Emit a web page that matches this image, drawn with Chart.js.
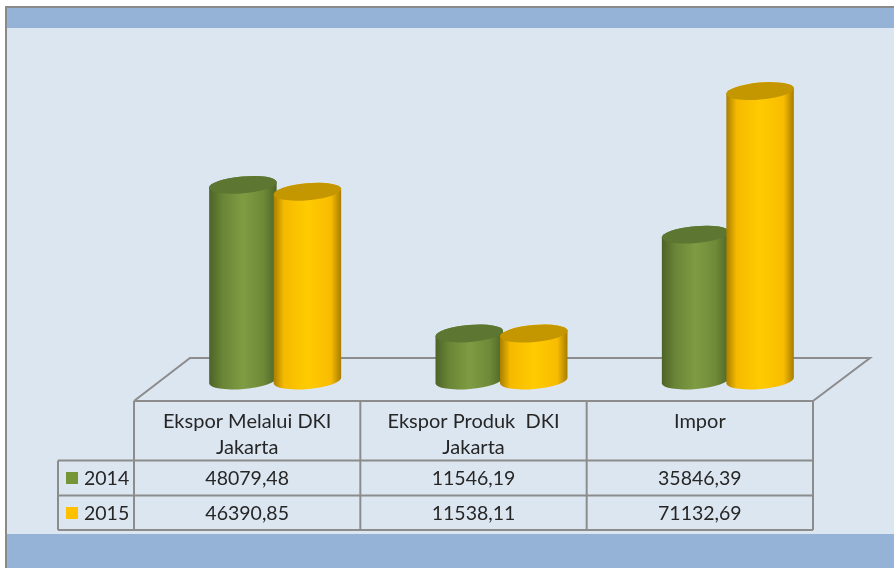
<!DOCTYPE html>
<html>
<head>
<meta charset="utf-8">
<title>Ekspor Impor DKI Jakarta</title>
<script src="https://cdn.jsdelivr.net/npm/chart.js@4"></script>
<style>
  html,body{margin:0;padding:0;background:#fff;}
  #wrap{position:relative;width:894px;height:568px;}
</style>
</head>
<body>
<div id="wrap"><canvas id="ch" width="894" height="568"></canvas></div>
<script>
const categories = [['Ekspor Melalui DKI','Jakarta'],['Ekspor Produk  DKI','Jakarta'],['Impor']];
const seriesNames = ['2014','2015'];
const values2014 = [48079.48, 11546.19, 35846.39];
const values2015 = [46390.85, 11538.11, 71132.69];
const yMax = 80000;

const FONT = 'Lato, "Open Sans", sans-serif';
const TEXT = '#262626', GRID = '#8c8c8c';
const depth = 28; // kaydirma: zemin derinligi
const tilt = -5*Math.PI/180, ry = 8.5;

const shades = [
  {cap:'#5d7631', pos:[0,.2,.5,.8,1], stops:['#4d6327','#6a8536','#7f9c43','#6f8a38','#4f6528'], swatch:'#769536'},
  {cap:'#c49700', pos:[0,.15,.5,.85,1], stops:['#a87f00','#f5b900','#ffcb00','#f8bc00','#a67d00'], swatch:'#ffc000'}
];
const fmt = v => v.toFixed(2).replace('.',',');

function cylinder(ctx, el, shade){
  const cx = el.x, rx = el.width/2, top = el.y, bot = el.base;
  const dx = rx*Math.cos(tilt), dy = rx*Math.sin(tilt);
  const g = ctx.createLinearGradient(cx-dx,0,cx+dx,0);
  shade.stops.forEach((c,i)=> g.addColorStop(shade.pos[i],c));
  ctx.beginPath();
  ctx.moveTo(cx-dx, top-dy);
  ctx.lineTo(cx-dx, bot-dy);
  ctx.ellipse(cx, bot, rx, ry, tilt, Math.PI, 0, true);
  ctx.lineTo(cx+dx, top+dy);
  ctx.closePath();
  ctx.fillStyle = g;
  ctx.fill();
  ctx.beginPath();
  ctx.ellipse(cx, top, rx, ry, tilt, 0, Math.PI*2);
  ctx.fillStyle = g;
  ctx.fill();
  ctx.fillStyle = shade.cap;
  ctx.fill();
}

function line(ctx,x1,y1,x2,y2){ ctx.beginPath(); ctx.moveTo(x1,y1); ctx.lineTo(x2,y2); ctx.stroke(); }

const scenePlugin = {
  id:'scene',
  beforeDraw(chart){
    const {ctx,width,height} = chart;
    ctx.save();
    ctx.fillStyle='#fff'; ctx.fillRect(0,0,width,height);
    ctx.fillStyle='#dce6f1'; ctx.fillRect(6,7,width-6,height-7);
    ctx.fillStyle='#95b3d7'; ctx.fillRect(6,7,width-6,21); ctx.fillRect(6,534,width-6,height-534);
    ctx.fillStyle='#8a8a8a'; ctx.fillRect(5,6,width-5,2); ctx.fillRect(5,6,2,height-6);
    ctx.restore();
  },
  beforeDatasetsDraw(chart){
    const {ctx,scales:{x}} = chart;
    const colW = x.getPixelForValue(1)-x.getPixelForValue(0);
    const left = x.getPixelForValue(0)-depth-colW/2, right = left+colW*categories.length;
    ctx.save();
    ctx.strokeStyle=GRID; ctx.lineWidth=2;
    // zemin
    ctx.beginPath(); ctx.moveTo(left,401); ctx.lineTo(left+56,358); ctx.lineTo(right+57,358); ctx.lineTo(right,401); ctx.stroke();
    // tablo
    const rowY=[401,460.5,495.5,530], legX=58;
    line(ctx,left,rowY[0],right,rowY[0]);
    line(ctx,legX,rowY[1],right,rowY[1]);
    line(ctx,legX,rowY[2],right,rowY[2]);
    line(ctx,legX,rowY[3],right,rowY[3]);
    line(ctx,legX,rowY[1],legX,rowY[3]);
    for(let i=0;i<=categories.length;i++) line(ctx,left+colW*i,rowY[0],left+colW*i,rowY[3]);
    // silindirler
    chart.data.datasets.forEach((d,i)=>{
      chart.getDatasetMeta(i).data.forEach(el=> cylinder(ctx,el,shades[i]));
    });
    // tablo degerleri + lejant
    ctx.font='19.5px '+FONT; ctx.fillStyle=TEXT; ctx.textBaseline='middle';
    chart.data.datasets.forEach((d,i)=>{
      const y=rowY[i+1]+17.5;
      ctx.fillStyle=shades[i].swatch; ctx.fillRect(66,y-6,12,12);
      ctx.fillStyle=TEXT; ctx.textAlign='left'; ctx.fillText(d.label,84,y+0.5);
      ctx.textAlign='center';
      d.data.forEach((v,j)=> ctx.fillText(fmt(v), x.getPixelForValue(j)-depth, y+0.5));
    });
    ctx.restore();
    return false;
  }
};

new Chart(document.getElementById('ch'),{
  type:'bar',
  data:{labels:categories,datasets:[
    {label:seriesNames[0],data:values2014,backgroundColor:shades[0].swatch,categoryPercentage:.57,barPercentage:1.05},
    {label:seriesNames[1],data:values2015,backgroundColor:shades[1].swatch,categoryPercentage:.57,barPercentage:1.05}
  ]},
  options:{
    responsive:false, animation:false, devicePixelRatio:1,
    layout:{padding:{left:162,right:53,top:55,bottom:0}},
    plugins:{legend:{display:false},tooltip:{enabled:false}},
    scales:{
      y:{display:false,min:0,max:yMax},
      x:{
        grid:{display:false},border:{display:false},
        afterFit(s){ s.height=187.5; },
        ticks:{autoSkip:false,maxRotation:0,minRotation:0,padding:20,labelOffset:-depth,color:TEXT,
          font:{family:FONT,size:20,lineHeight:1.3}}
      }
    }
  },
  plugins:[scenePlugin]
});
</script>
</body>
</html>
